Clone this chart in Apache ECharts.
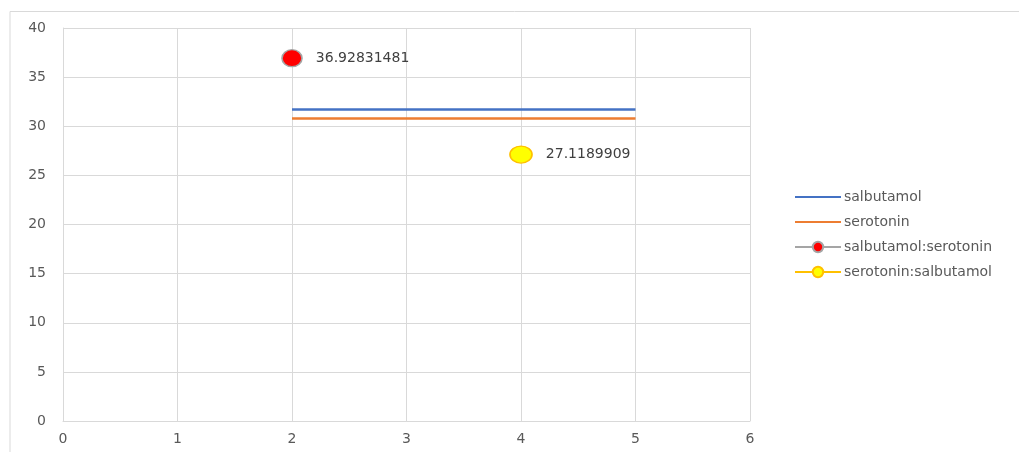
<!DOCTYPE html>
<html>
<head>
<meta charset="utf-8">
<script src="https://cdn.jsdelivr.net/npm/echarts@6/dist/echarts.min.js"></script>
<style>
  html, body { margin: 0; padding: 0; background: #fff; }
  #chart { width: 1019px; height: 452px; }
</style>
</head>
<body>
<div id="chart"></div>
<script>
// Series names and values
const seriesNames = ['salbutamol', 'serotonin', 'salbutamol:serotonin', 'serotonin:salbutamol'];
const salbutamolLine = [[2, 31.7], [5, 31.7]];
const serotoninLine = [[2, 30.8], [5, 30.8]];
const salbutamolSerotonin = [[2, 36.92831481]];
const serotoninSalbutamol = [[4, 27.1189909]];
const xTicks = { min: 0, max: 6, interval: 1 };
const yTicks = { min: 0, max: 40, interval: 5 };

const textColor = '#595959';
const gridColor = '#D9D9D9';
const font = '"DejaVu Sans", "Open Sans", sans-serif';

const chart = echarts.init(document.getElementById('chart'), null, { renderer: 'canvas' });

const pointLabel = {
  show: true,
  position: 'right',
  distance: 13,
  color: '#404040',
  fontSize: 14,
  fontFamily: font,
  formatter: p => String(p.value[1])
};

chart.setOption({
  animation: false,
  backgroundColor: '#fff',
  textStyle: { fontFamily: font },
  graphic: [
    { type: 'line', shape: { x1: 10, y1: 11.5, x2: 1019, y2: 11.5 }, style: { stroke: '#D9D9D9', lineWidth: 1 } },
    { type: 'line', shape: { x1: 10, y1: 11.5, x2: 10, y2: 452 }, style: { stroke: '#D9D9D9', lineWidth: 1 } }
  ],
  grid: { left: 63, right: 269, top: 28, bottom: 31, containLabel: false },
  legend: {
    orient: 'vertical',
    left: 789,
    top: 185,
    itemGap: 11,
    itemWidth: 46,
    itemHeight: 13,
    textStyle: { color: textColor, fontSize: 14, fontFamily: font, padding: [0, 0, 0, -2] },
    data: [
      { name: seriesNames[0], itemStyle: { opacity: 0 } },
      { name: seriesNames[1], itemStyle: { opacity: 0 } },
      { name: seriesNames[2] },
      { name: seriesNames[3] }
    ]
  },
  xAxis: {
    type: 'value',
    min: xTicks.min, max: xTicks.max, interval: xTicks.interval,
    axisLine: { show: true, lineStyle: { color: gridColor } },
    axisTick: { show: false },
    axisLabel: { color: textColor, fontSize: 14, fontFamily: font, margin: 11 },
    splitLine: { show: true, lineStyle: { color: gridColor } }
  },
  yAxis: {
    type: 'value',
    min: yTicks.min, max: yTicks.max, interval: yTicks.interval,
    axisLine: { show: true, lineStyle: { color: gridColor } },
    axisTick: { show: false },
    axisLabel: { color: textColor, fontSize: 14, fontFamily: font, margin: 17 },
    splitLine: { show: true, lineStyle: { color: gridColor } }
  },
  series: [
    {
      name: seriesNames[0], type: 'line', data: salbutamolLine,
      symbol: 'none', lineStyle: { color: '#4472C4', width: 2.5 }, itemStyle: { color: '#4472C4' }
    },
    {
      name: seriesNames[1], type: 'line', data: serotoninLine,
      symbol: 'none', lineStyle: { color: '#ED7D31', width: 2.5 }, itemStyle: { color: '#ED7D31' }
    },
    {
      name: seriesNames[2], type: 'line', data: salbutamolSerotonin,
      symbol: 'circle', symbolSize: [20, 17],
      lineStyle: { color: '#A5A5A5', width: 2.5 },
      itemStyle: { color: '#FF0000', borderColor: '#A5A5A5', borderWidth: 1.5 },
      label: pointLabel
    },
    {
      name: seriesNames[3], type: 'line', data: serotoninSalbutamol,
      symbol: 'circle', symbolSize: [22, 17],
      lineStyle: { color: '#FFC000', width: 2.5 },
      itemStyle: { color: '#FFFF00', borderColor: '#FFC000', borderWidth: 1.5 },
      label: pointLabel
    }
  ]
});
</script>
</body>
</html>
